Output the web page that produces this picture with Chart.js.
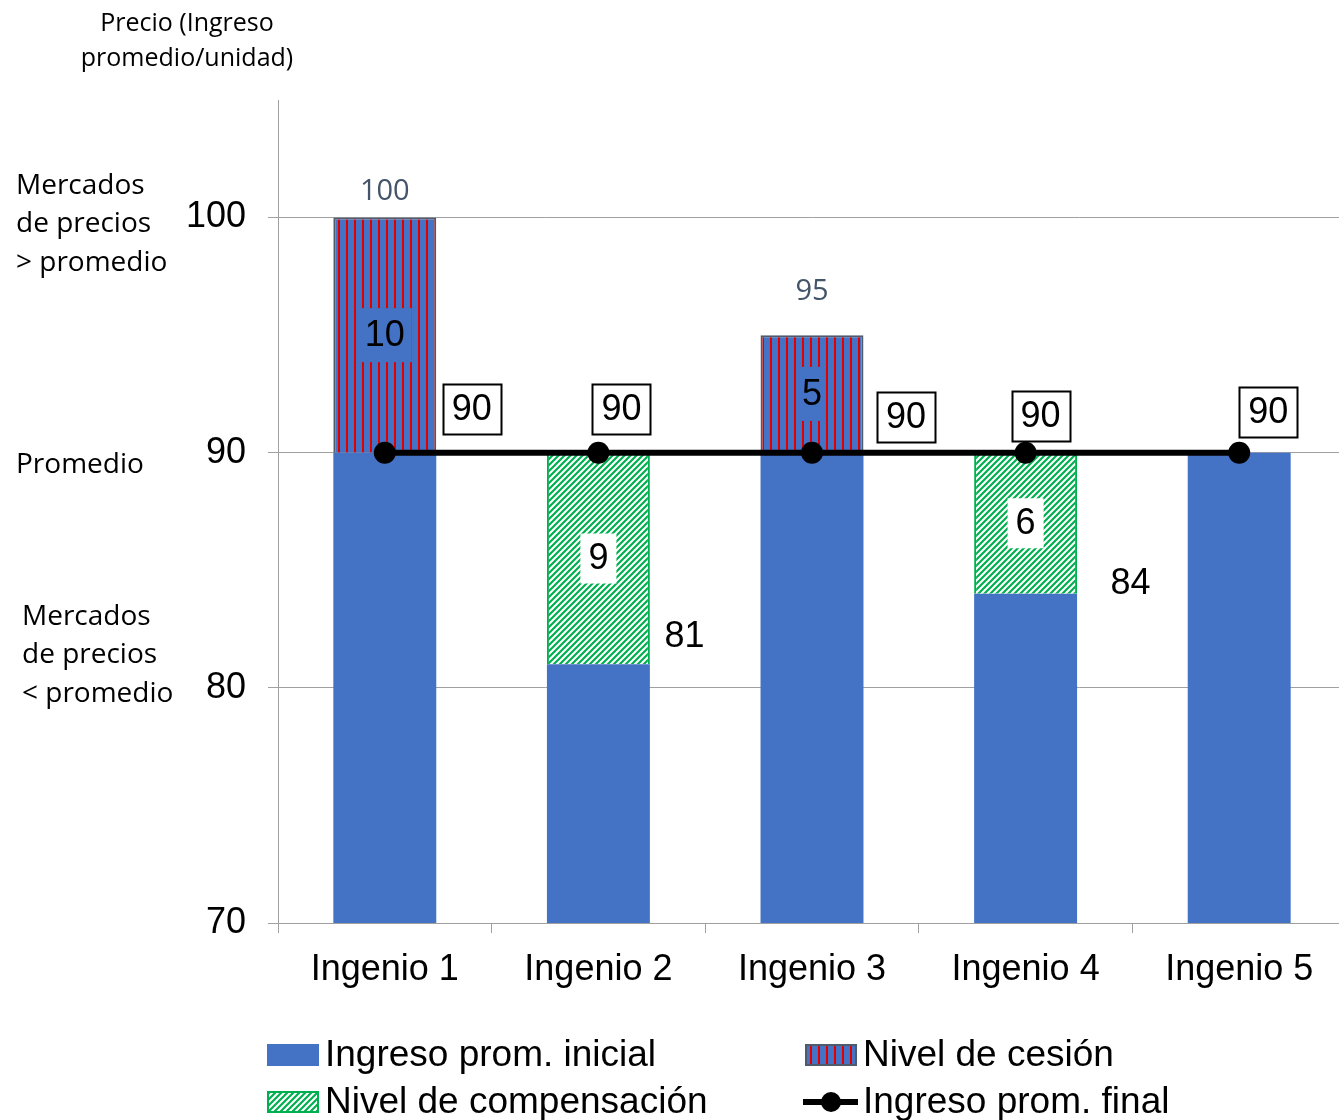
<!DOCTYPE html>
<html>
<head>
<meta charset="utf-8">
<script src="https://cdn.jsdelivr.net/npm/chart.js@4.4.1/dist/chart.umd.min.js"></script>
<style>
  html, body { margin: 0; padding: 0; background: #fff; overflow: hidden; }
  #wrap { width: 1339px; height: 1120px; overflow: hidden; }
</style>
</head>
<body>
<div id="wrap"><canvas id="chart" width="1346" height="1120"></canvas></div>
<script>
const categories = ['Ingenio 1', 'Ingenio 2', 'Ingenio 3', 'Ingenio 4', 'Ingenio 5'];
const inicial = [90, 81, 90, 84, 90];
const cesion = [10, null, 5, null, null];
const compensacion = [null, 9, null, 6, null];
const final = [90, 90, 90, 90, 90];
const yTicks = [70, 80, 90, 100];
const seriesNames = ['Ingreso prom. inicial', 'Nivel de cesión', 'Nivel de compensación', 'Ingreso prom. final'];

const canvas = document.getElementById('chart');
const ctx = canvas.getContext('2d');

// bar fills
function redStripes() {
  const c = document.createElement('canvas');
  c.width = 8; c.height = 8;
  const g = c.getContext('2d');
  g.fillStyle = '#4472c4';
  g.fillRect(0, 0, 8, 8);
  g.fillStyle = '#e00000';
  g.fillRect(2, 0, 2, 8);
  return ctx.createPattern(c, 'repeat');
}
function greenHatch() {
  const c = document.createElement('canvas');
  c.width = 6; c.height = 6;
  const g = c.getContext('2d');
  g.fillStyle = '#fff';
  g.fillRect(0, 0, 6, 6);
  g.strokeStyle = '#00b050';
  g.lineWidth = 2.2;
  g.beginPath();
  g.moveTo(-1, 7); g.lineTo(7, -1);
  g.moveTo(-4, 4); g.lineTo(4, -4);
  g.moveTo(2, 10); g.lineTo(10, 2);
  g.stroke();
  return ctx.createPattern(c, 'repeat');
}
const redFill = redStripes();
const greenFill = greenHatch();

const arial = 'Liberation Sans, Arial, sans-serif';
const calibri = '"Open Sans", sans-serif';

// label offsets (px) relative to their bar/point
const finalOff = [[87, -44], [23, -44], [94, -36], [15, -37], [29, -41]];
const totalOff = [-26, 0, -43, 0, 0];
const baseOff = [[0, 0], [86, -27], [0, 0], [105, -10], [0, 0]];

function boxText(c, text, x, y, opts) {
  c.font = opts.font;
  const w = c.measureText(text).width;
  const bw = w + opts.padX * 2, bh = opts.h;
  if (opts.bg) {
    c.fillStyle = opts.bg;
    c.fillRect(x - bw / 2, y - bh / 2, bw, bh);
  }
  if (opts.border) {
    c.strokeStyle = opts.border;
    c.lineWidth = 2;
    c.strokeRect(Math.round(x - bw / 2) + 0.5, Math.round(y - bh / 2) + 0.5, Math.round(bw), Math.round(bh));
  }
  c.fillStyle = opts.color || '#000';
  c.textAlign = 'center';
  c.textBaseline = 'middle';
  c.fillText(text, x, y + 1);
}

const labelPlugin = {
  id: 'labels',
  afterDatasetsDraw(chart) {
    const c = chart.ctx;
    const ys = chart.scales.y;
    const base = chart.getDatasetMeta(0).data;
    const pts = chart.getDatasetMeta(3).data;
    c.save();
    categories.forEach((cat, i) => {
      const x = base[i].x;
      if (cesion[i]) {
        const mid = ys.getPixelForValue(inicial[i] + cesion[i] / 2);
        boxText(c, String(cesion[i]), x, mid, { font: '36px ' + arial, padX: cesion[i] >= 10 ? 7 : 3, h: 54, bg: '#4472c4' });
        const top = ys.getPixelForValue(inicial[i] + cesion[i]);
        c.font = '29px ' + calibri;
        c.fillStyle = '#44546a';
        c.textAlign = 'center';
        c.textBaseline = 'middle';
        c.fillText(String(inicial[i] + cesion[i]), x, top + totalOff[i]);
      }
      if (compensacion[i]) {
        const mid = ys.getPixelForValue(inicial[i] + compensacion[i] / 2);
        boxText(c, String(compensacion[i]), x, mid, { font: '36px ' + arial, padX: 8, h: 50, bg: '#fff' });
        const top = ys.getPixelForValue(inicial[i]);
        c.font = '36px ' + arial;
        c.fillStyle = '#000';
        c.textAlign = 'center';
        c.textBaseline = 'middle';
        c.fillText(String(inicial[i]), x + baseOff[i][0], top + baseOff[i][1]);
      }
      const p = pts[i];
      boxText(c, String(final[i]), p.x + finalOff[i][0], p.y + finalOff[i][1], { font: '36px ' + arial, padX: 9, h: 50, bg: '#fff', border: '#000' });
    });
    c.restore();
  }
};

const sidePlugin = {
  id: 'side',
  afterDraw(chart) {
    const c = chart.ctx;
    c.save();
    c.fillStyle = '#000';
    c.textBaseline = 'middle';
    c.textAlign = 'center';
    c.font = '25px ' + calibri;
    c.fillText('Precio (Ingreso', 187, 24);
    c.fillText('promedio/unidad)', 187, 59);
    c.textAlign = 'left';
    c.font = '28px ' + calibri;
    ['Mercados', 'de precios', '> promedio'].forEach((t, k) => c.fillText(t, 16, 186 + k * 38.5));
    c.fillText('Promedio', 16, 465);
    ['Mercados', 'de precios', '< promedio'].forEach((t, k) => c.fillText(t, 22, 617 + k * 38.5));

    // legend
    const cols = [267, 805], rows = [1055, 1102];
    const order = [[0, 0, 0], [1, 1, 0], [2, 0, 1], [3, 1, 1]];
    c.font = '37px ' + arial;
    order.forEach(([k, col, row]) => {
      const ds = chart.data.datasets[k];
      const x = cols[col], y = rows[row];
      if (ds.type === 'line') {
        c.strokeStyle = '#000';
        c.lineWidth = 6;
        c.beginPath();
        c.moveTo(x - 2, y); c.lineTo(x + 53, y);
        c.stroke();
        c.fillStyle = '#000';
        c.beginPath();
        c.arc(x + 26, y, 10, 0, Math.PI * 2);
        c.fill();
      } else {
        c.fillStyle = ds.backgroundColor;
        c.fillRect(x, y - 11, 52, 22);
        if (ds.borderWidth) {
          c.strokeStyle = ds.borderColor;
          c.lineWidth = 2;
          c.strokeRect(x + 1, y - 10, 50, 20);
        }
      }
      c.fillStyle = '#000';
      c.textAlign = 'left';
      c.fillText(ds.label, x + 58, y + 1);
    });
    c.restore();
  }
};

new Chart(ctx, {
  type: 'bar',
  data: {
    labels: categories,
    datasets: [
      { label: seriesNames[0], data: inicial, backgroundColor: '#4472c4', borderWidth: 0, stack: 'a', order: 1 },
      { label: seriesNames[1], data: cesion, backgroundColor: redFill, borderColor: '#4d5b6d', borderWidth: 2, stack: 'a', order: 1 },
      { label: seriesNames[2], data: compensacion, backgroundColor: greenFill, borderColor: '#00b050', borderWidth: 2, stack: 'a', order: 1 },
      { label: seriesNames[3], data: final, type: 'line', stack: 'line', order: 0,
        borderColor: '#000', borderWidth: 6, pointRadius: 11, pointHoverRadius: 11,
        pointBackgroundColor: '#000', pointBorderWidth: 0 }
    ]
  },
  options: {
    responsive: false,
    animation: false,
    devicePixelRatio: 1,
    barPercentage: 0.482,
    categoryPercentage: 1,
    layout: { autoPadding: false, padding: { top: 100, right: 0, bottom: 117, left: 0 } },
    plugins: { legend: { display: false }, tooltip: { enabled: false } },
    scales: {
      x: {
        stacked: true,
        grid: { display: true, drawOnChartArea: false, drawTicks: true, tickLength: 10, color: '#a0a0a0', offset: true },
        border: { display: true, color: '#a0a0a0' },
        ticks: { color: '#000', font: { family: arial, size: 36 }, padding: 15, maxRotation: 0 },
        afterFit(s) { s.height = 80; }
      },
      y: {
        stacked: true,
        min: 70,
        max: 105,
        afterBuildTicks(s) { s.ticks = yTicks.map(v => ({ value: v })); },
        grid: { color: '#a0a0a0', tickLength: 10 },
        border: { display: true, color: '#a0a0a0' },
        ticks: { color: '#000', font: { family: arial, size: 36 }, padding: 22 },
        afterFit(s) { s.width = 278; }
      }
    }
  },
  plugins: [labelPlugin, sidePlugin]
});
</script>
</body>
</html>
